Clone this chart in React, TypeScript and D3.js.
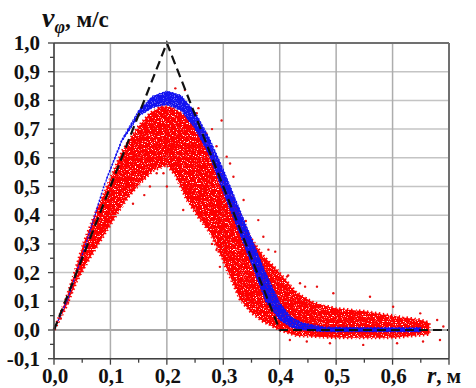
import React from "react";
import * as d3 from "d3";

// ---- data ----
const xTicks = [0, 0.1, 0.2, 0.3, 0.4, 0.5, 0.6, 0.7];
const xTickLabels = ["0,0", "0,1", "0,2", "0,3", "0,4", "0,5", "0,6"];
const yTicks = [-0.1, 0, 0.1, 0.2, 0.3, 0.4, 0.5, 0.6, 0.7, 0.8, 0.9, 1.0];
const yTickLabels = ["-0,1", "0,0", "0,1", "0,2", "0,3", "0,4", "0,5", "0,6", "0,7", "0,8", "0,9", "1,0"];

// model profile (dashed)
const modelR = [0, 0.2, 0.4, 0.7];
const modelV = [0, 1.0, 0, 0];

// red cloud envelope
const redUpper: [number, number][] = [
  [0, 0], [0.02, 0.1], [0.035, 0.19], [0.052, 0.3], [0.07, 0.39], [0.094, 0.5],
  [0.122, 0.627], [0.15, 0.71], [0.17, 0.755], [0.19, 0.78], [0.21, 0.775],
  [0.23, 0.75], [0.25, 0.72], [0.27, 0.66], [0.29, 0.575], [0.31, 0.49],
  [0.33, 0.4], [0.347, 0.325], [0.37, 0.26], [0.395, 0.21], [0.43, 0.13],
  [0.46, 0.095], [0.5, 0.075], [0.55, 0.065], [0.6, 0.05], [0.65, 0.035], [0.665, 0.025],
];
const redLower: [number, number][] = [
  [0, 0], [0.02, 0.075], [0.04, 0.17], [0.06, 0.24], [0.082, 0.31], [0.11, 0.4],
  [0.13, 0.46], [0.152, 0.51], [0.175, 0.555], [0.2, 0.575], [0.215, 0.54],
  [0.235, 0.455], [0.257, 0.39], [0.277, 0.338], [0.3, 0.24], [0.33, 0.105],
  [0.35, 0.06], [0.37, 0.03], [0.4, 0.0], [0.43, -0.02], [0.5, -0.027],
  [0.6, -0.027], [0.665, -0.015],
];
// blue band envelope
const blueUpper: [number, number][] = [
  [0, 0], [0.025, 0.113], [0.06, 0.323], [0.09, 0.513], [0.12, 0.663], [0.15, 0.765],
  [0.175, 0.815], [0.2, 0.833], [0.225, 0.818], [0.25, 0.76], [0.275, 0.67],
  [0.3, 0.56], [0.325, 0.44], [0.35, 0.32], [0.375, 0.2], [0.4, 0.095],
  [0.42, 0.045], [0.44, 0.025], [0.48, 0.01], [0.55, 0.008], [0.65, 0.008],
];
const blueLower: [number, number][] = [
  [0, 0], [0.025, 0.11], [0.06, 0.32], [0.09, 0.508], [0.12, 0.656], [0.15, 0.745],
  [0.175, 0.775], [0.2, 0.785], [0.225, 0.765], [0.25, 0.7], [0.275, 0.61],
  [0.3, 0.48], [0.325, 0.355], [0.35, 0.23], [0.375, 0.1], [0.4, 0.035],
  [0.42, 0.01], [0.44, 0.0], [0.48, -0.006], [0.55, -0.006], [0.65, -0.006],
];
// scattered red points outside the dense cloud
const redOutliers: [number, number][] = [
  [0.297, 0.73], [0.28, 0.7], [0.306, 0.604], [0.312, 0.58], [0.256, 0.773],
  [0.215, 0.842], [0.232, 0.836], [0.223, 0.79], [0.27, 0.685], [0.288, 0.64],
  [0.253, 0.755], [0.182, 0.546], [0.223, 0.52], [0.2, 0.5], [0.318, 0.534],
  [0.336, 0.453], [0.362, 0.383], [0.371, 0.325], [0.392, 0.273], [0.413, 0.186],
  [0.436, 0.163], [0.265, 0.488], [0.288, 0.279], [0.294, 0.22], [0.318, 0.174],
  [0.336, 0.116], [0.194, 0.546], [0.229, 0.418], [0.253, 0.418], [0.312, 0.209],
  [0.445, 0.151], [0.466, 0.151], [0.495, 0.128], [0.56, 0.116], [0.601, 0.081],
  [0.649, 0.058], [0.679, 0.035], [0.69, 0.012], [0.684, -0.035], [0.654, -0.04],
  [0.489, -0.046], [0.448, -0.04], [0.418, -0.035], [0.548, -0.052], [0.608, -0.046],
  [0.012, 0.04], [0.025, 0.095], [0.03, 0.13], [0.045, 0.2], [0.415, 0.19],
  [0.16, 0.47], [0.14, 0.44], [0.17, 0.5], [0.28, 0.3], [0.34, 0.38], [0.38, 0.28],
];

const W = 476;
const H = 388;
const SERIF = "Liberation Serif";

export default function App() {
  const x = d3.scaleLinear().domain([0, 0.7]).range([54, 449]);
  const y = d3.scaleLinear().domain([-0.1, 1.0]).range([358.7, 43]);

  const poly = (up: [number, number][], lo: [number, number][]) =>
    d3
      .line<[number, number]>()
      .x((d) => x(d[0]))
      .y((d) => y(d[1]))
      .curve(d3.curveLinearClosed)(up.concat(lo.slice().reverse())) || "";

  const model = d3
    .line<number>()
    .x((d) => x(modelR[d]))
    .y((d) => y(modelV[d]))(modelR.map((_, i) => i)) || "";

  const minorY = d3.range(-0.1, 1.0001, 0.05);
  const minorX = d3.range(0, 0.7001, 0.05);

  return (
    <svg width={W} height={H} style={{ position: "absolute", left: 0, top: 0, background: "#fff" }}>
      <defs>
        <filter id="speckle" x="-5%" y="-5%" width="110%" height="110%">
          <feTurbulence type="fractalNoise" baseFrequency="0.85" numOctaves="1" seed="7" result="noise" />
          <feColorMatrix in="noise" type="matrix"
            values="0 0 0 0 0  0 0 0 0 0  0 0 0 0 0  9 0 0 0 -2.6" result="mask" />
          <feComposite in="SourceGraphic" in2="mask" operator="in" />
        </filter>
        <filter id="speckleB" x="-5%" y="-5%" width="110%" height="110%">
          <feTurbulence type="fractalNoise" baseFrequency="0.9" numOctaves="1" seed="2" result="noise" />
          <feColorMatrix in="noise" type="matrix"
            values="0 0 0 0 0  0 0 0 0 0  0 0 0 0 0  10 0 0 0 -3.2" result="mask" />
          <feComposite in="SourceGraphic" in2="mask" operator="in" />
        </filter>
      </defs>

      {/* grid */}
      {yTicks.map((t) => (
        <line key={"gy" + t} x1={x(0)} x2={x(0.7)} y1={y(t)} y2={y(t)}
          stroke={Math.abs(t) < 1e-9 ? "#8a8a8a" : "#c4c4c4"} strokeWidth={1.5} />
      ))}
      {xTicks.map((t) => (
        <line key={"gx" + t} x1={x(t)} x2={x(t)} y1={y(-0.1)} y2={y(1.0)} stroke="#adadad" strokeWidth={1.5} />
      ))}

      {/* red cloud */}
      <g filter="url(#speckle)">
        <path d={poly(redUpper, redLower)} fill="#ff0000" stroke="#ff0000" strokeWidth={3} strokeDasharray="1.5,2.5" />
      </g>
      {redOutliers.map((p, i) => (
        <circle key={"ro2" + i} cx={x(p[0])} cy={y(p[1])} r={1.2} fill="#e81010" />
      ))}

      {/* blue band */}
      <g filter="url(#speckleB)">
        <path d={poly(blueUpper, blueLower)} fill="#1010f0" stroke="#1010f0" strokeWidth={1.2} strokeDasharray="1.5,2" />
      </g>
      <path d={poly(blueUpper, blueLower)} fill="#1818f0" fillOpacity={0.6} stroke="none" />

      {/* model dashed line */}
      <path d={model} fill="none" stroke="#111" strokeWidth={2.2} strokeDasharray="9,5" />

      {/* frame */}
      <line x1={x(0)} x2={x(0.7)} y1={y(1.0)} y2={y(1.0)} stroke="#707070" strokeWidth={2} />
      <line x1={x(0.7)} x2={x(0.7)} y1={y(1.0)} y2={y(-0.1)} stroke="#707070" strokeWidth={2} />
      <line x1={x(0)} x2={x(0)} y1={y(1.0)} y2={y(-0.1)} stroke="#404040" strokeWidth={1.5} />
      <line x1={x(0)} x2={x(0.7)} y1={y(-0.1)} y2={y(-0.1)} stroke="#404040" strokeWidth={1.5} />

      {/* ticks */}
      {minorY.map((t, i) => (
        <line key={"ty" + i} x1={x(0) - (i % 2 === 0 ? 6 : 4)} x2={x(0)} y1={y(t)} y2={y(t)} stroke="#404040" strokeWidth={1.3} />
      ))}
      {minorX.map((t, i) => (
        <line key={"tx" + i} x1={x(t)} x2={x(t)} y1={y(-0.1)} y2={y(-0.1) + (i % 2 === 0 ? 6 : 4)} stroke="#404040" strokeWidth={1.3} />
      ))}

      {/* tick labels */}
      {yTicks.map((t, i) => (
        <text key={"ly" + t} x={40} y={y(t) + 7} textAnchor="end" fontFamily={SERIF} fontWeight="bold" fontSize={21} fill="#111">
          {yTickLabels[i]}
        </text>
      ))}
      {xTickLabels.map((l, i) => (
        <text key={"lx" + l} x={x(xTicks[i]) + 1} y={383} textAnchor="middle" fontFamily={SERIF} fontWeight="bold" fontSize={21} fill="#111">
          {l}
        </text>
      ))}

      {/* axis titles */}
      <text x={42} y={27} fontFamily={SERIF} fontWeight="bold" fill="#111">
        <tspan fontStyle="italic" fontSize={28}>v</tspan>
        <tspan fontStyle="italic" fontSize={18} dy={6}>φ</tspan>
        <tspan fontSize={23} dy={-6}>, м/с</tspan>
      </text>
      <text x={427} y={383} fontFamily={SERIF} fontWeight="bold" fill="#111">
        <tspan fontStyle="italic" fontSize={24}>r</tspan>
        <tspan fontSize={21}>, м</tspan>
      </text>
    </svg>
  );
}
